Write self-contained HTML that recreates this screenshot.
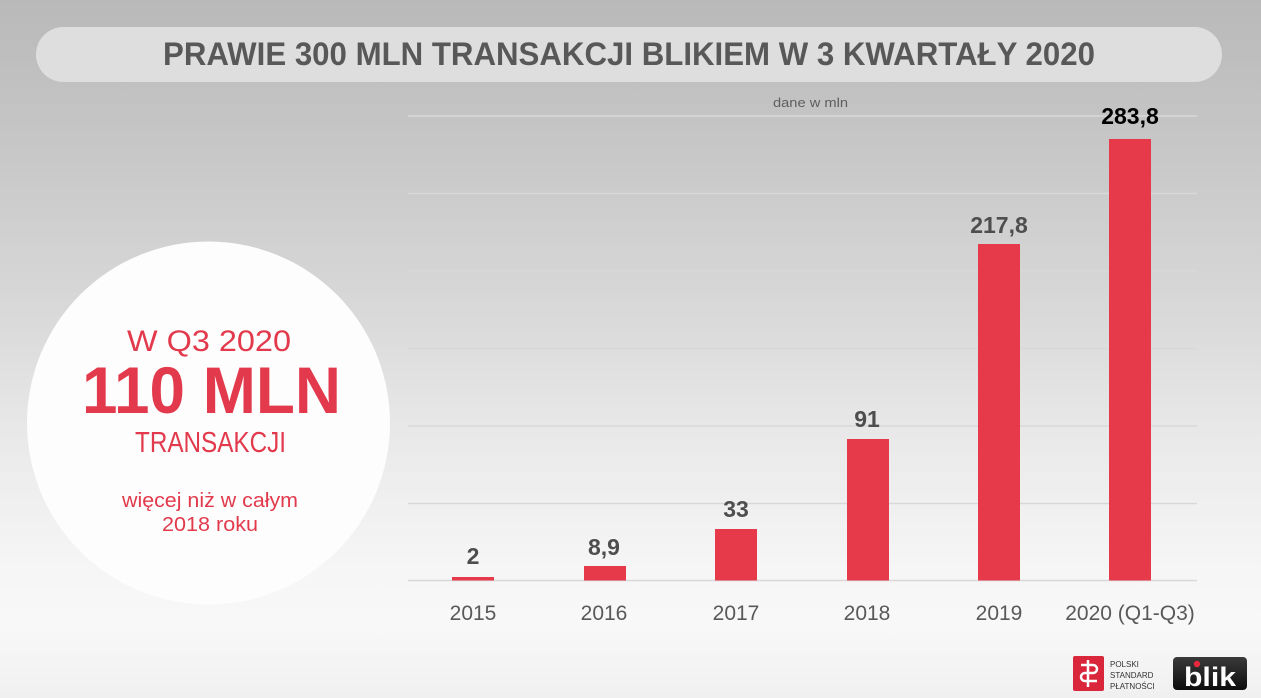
<!DOCTYPE html>
<html><head><meta charset="utf-8"><style>
html,body{margin:0;padding:0;}
body{width:1261px;height:698px;overflow:hidden;}
svg{display:block;}
</style></head><body>
<svg width="1261" height="698" viewBox="0 0 1261 698" xmlns="http://www.w3.org/2000/svg" font-family="'Liberation Sans', sans-serif">
<defs>
<linearGradient id="bg" x1="0" y1="0" x2="0" y2="1">
<stop offset="0" stop-color="#b9b9b9"/>
<stop offset="0.2" stop-color="#c6c6c6"/>
<stop offset="0.45" stop-color="#d9d9d9"/>
<stop offset="0.65" stop-color="#ebebeb"/>
<stop offset="0.82" stop-color="#f6f6f6"/>
<stop offset="0.9" stop-color="#f8f8f8"/>
<stop offset="1" stop-color="#f0f0f0"/>
</linearGradient>
<linearGradient id="blk" x1="0" y1="0" x2="0" y2="1">
<stop offset="0" stop-color="#3a3a3a"/>
<stop offset="1" stop-color="#0d0d0d"/>
</linearGradient>
</defs>
<rect x="0" y="0" width="1261" height="698" fill="url(#bg)"/>
<!-- title pill -->
<rect x="36" y="27" width="1186" height="55" rx="27.5" fill="#dedede"/>
<text x="163" y="65" font-size="32" font-weight="bold" fill="#585858" textLength="932" lengthAdjust="spacingAndGlyphs">PRAWIE 300 MLN TRANSAKCJI BLIKIEM W 3 KWARTAŁY 2020</text>
<!-- circle -->
<circle cx="208.5" cy="423" r="181.5" fill="#fdfdfd"/>
<g fill="#e23a4c">
<text x="127" y="351" font-size="30" textLength="164" lengthAdjust="spacingAndGlyphs">W Q3 2020</text>
<text x="82" y="413" font-size="66" font-weight="bold" textLength="259" lengthAdjust="spacingAndGlyphs">110 MLN</text>
<text x="135" y="452" font-size="29" textLength="151" lengthAdjust="spacingAndGlyphs">TRANSAKCJI</text>
<text x="122" y="507" font-size="20" textLength="176" lengthAdjust="spacingAndGlyphs">więcej niż w całym</text>
<text x="162" y="531" font-size="20" textLength="96" lengthAdjust="spacingAndGlyphs">2018 roku</text>
</g>
<!-- gridlines -->
<g stroke="#d8d8d8" stroke-width="1.5">
<line x1="408" y1="116" x2="1197" y2="116"/>
<line x1="408" y1="193.5" x2="1197" y2="193.5"/>
<line x1="408" y1="271" x2="1197" y2="271"/>
<line x1="408" y1="348.5" x2="1197" y2="348.5"/>
<line x1="408" y1="426" x2="1197" y2="426"/>
<line x1="408" y1="503.5" x2="1197" y2="503.5"/>
<line x1="408" y1="580.5" x2="1197" y2="580.5"/>
</g>
<text x="773" y="107" font-size="13" fill="#5e5e5e" textLength="75" lengthAdjust="spacingAndGlyphs">dane w mln</text>
<!-- bars -->
<g fill="#e63a4b">
<rect x="452" y="577" width="42" height="3.5"/>
<rect x="584" y="566" width="42" height="14.5"/>
<rect x="715" y="529" width="42" height="51.5"/>
<rect x="847" y="439" width="42" height="141.5"/>
<rect x="978" y="244" width="42" height="336.5"/>
<rect x="1109" y="139" width="42" height="441.5"/>
</g>
<!-- bar labels -->
<g font-size="23" font-weight="bold" fill="#4e4e4e" text-anchor="middle">
<text x="473" y="564">2</text>
<text x="604" y="555">8,9</text>
<text x="736" y="517">33</text>
<text x="867" y="427">91</text>
<text x="999" y="233">217,8</text>
<text x="1130" y="124" fill="#000">283,8</text>
</g>
<!-- year labels -->
<g font-size="21" fill="#595959" text-anchor="middle">
<text x="473" y="620">2015</text>
<text x="604" y="620">2016</text>
<text x="736" y="620">2017</text>
<text x="867" y="620">2018</text>
<text x="999" y="620">2019</text>
<text x="1130" y="620">2020 (Q1-Q3)</text>
</g>
<!-- PSP logo -->
<rect x="1073" y="656" width="31" height="35" rx="2" fill="#d9263b"/>
<path d="M1081 665 h12 a4 4 0 0 1 0 8 h-8 a4 4 0 0 0 0 8 h12" fill="none" stroke="#fff" stroke-width="2.5"/>
<line x1="1088" y1="660" x2="1088" y2="687" stroke="#fff" stroke-width="2.5"/>
<g font-size="8" fill="#333">
<text x="1110" y="667">POLSKI</text>
<text x="1110" y="678">STANDARD</text>
<text x="1110" y="689">PŁATNOŚCI</text>
</g>
<!-- blik logo -->
<rect x="1173" y="657" width="74" height="33" rx="4" fill="url(#blk)"/>
<text x="1184" y="686" font-size="27" font-weight="bold" fill="#fff" textLength="52" lengthAdjust="spacingAndGlyphs">blik</text>
<circle cx="1197" cy="664" r="3.2" fill="#e8283c"/>
</svg>
</body></html>
